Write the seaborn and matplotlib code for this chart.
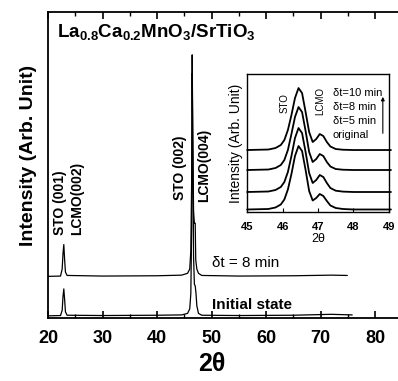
import seaborn as sns
import matplotlib.pyplot as plt
from matplotlib.ticker import MultipleLocator

sns.set_style("ticks")
plt.rcParams["font.family"] = ["Liberation Sans", "DejaVu Sans"]
plt.rcParams["mathtext.fontset"] = "custom"
plt.rcParams["mathtext.rm"] = "Liberation Sans"
plt.rcParams["mathtext.bf"] = "Liberation Sans:bold"
plt.rcParams["text.color"] = "black"
plt.rcParams["axes.labelcolor"] = "black"
plt.rcParams["axes.edgecolor"] = "black"
plt.rcParams["xtick.color"] = "black"

# main scans (2theta, intensity in arbitrary units)
init_x = [20.0, 22.3, 22.6, 22.75, 22.9, 23.05, 23.2, 23.5, 30.0, 40.0,
          44.5, 45.6, 46.0, 46.2, 46.35, 46.45, 46.55, 46.7, 46.85, 47.0,
          47.15, 47.3, 47.6, 48.2, 55.0, 65.0, 72.0, 75.8]
init_y = [0.7, 0.8, 2.5, 7.0, 9.5, 6.0, 2.0, 0.9, 0.8, 0.9,
          1.0, 1.5, 3.0, 8.0, 30.0, 80.0, 60.0, 20.0, 11.0, 10.5,
          8.0, 4.0, 1.5, 0.9, 0.8, 0.9, 1.2, 1.0]
dt8_x = [20.0, 22.3, 22.6, 22.75, 22.9, 23.05, 23.2, 23.5, 30.0, 40.0,
         44.5, 45.6, 46.0, 46.2, 46.35, 46.45, 46.55, 46.7, 46.85, 47.0,
         47.1, 47.3, 47.6, 48.2, 55.0, 65.0, 72.0, 74.9]
dt8_y = [13.6, 13.7, 16.0, 21.0, 24.0, 19.0, 15.0, 13.9, 13.7, 13.8,
         14.0, 14.6, 16.0, 22.0, 45.0, 86.0, 60.0, 35.0, 31.0, 31.0,
         19.0, 16.0, 14.6, 13.9, 13.7, 13.8, 14.0, 13.9]

# inset: zoom on the (002)/(004) region
inset_x = [45.0, 45.6, 45.8, 45.95, 46.05, 46.15, 46.25, 46.35, 46.45,
           46.55, 46.65, 46.75, 46.85, 46.95, 47.05, 47.15, 47.25, 47.35,
           47.5, 47.7, 48.0, 49.06]
inset_curves = {
    "dt10": [62, 62.5, 64, 67, 72, 82, 97, 114, 124, 119, 100, 80, 70,
             73, 78, 76, 70, 65.5, 63, 62.3, 62, 62],
    "dt8": [42, 42.5, 44, 47, 52, 62, 78, 95, 105, 100, 81, 60, 50,
            53, 58, 56, 50, 45.5, 43, 42.3, 42, 42],
    "dt5": [20, 20.5, 22, 25, 30, 40, 56, 74, 84, 79, 60, 39, 29,
            32, 37, 35, 29, 24, 21.3, 20.4, 20, 20],
    "original": [2.5, 3, 4.5, 7.5, 12.5, 22.5, 38, 56, 66, 61, 42, 21, 11.5,
                 14, 18, 16, 11, 6.5, 4, 3, 2.5, 2.5],
}
legend_labels = ["\u03b4t=10 min", "\u03b4t=8 min", "\u03b4t=5 min", "original"]

fig = plt.figure(figsize=(3.98, 3.81), dpi=100)
ax = fig.add_axes([0.1206, 0.1654, 0.8794, 0.8031])

sns.lineplot(x=init_x, y=init_y, ax=ax, color="black", lw=0.9,
             sort=False, estimator=None)
sns.lineplot(x=dt8_x, y=dt8_y, ax=ax, color="black", lw=0.9,
             sort=False, estimator=None)

ax.set_xlim(20, 84.2)
ax.set_ylim(0, 100)
ax.xaxis.set_major_locator(MultipleLocator(10))
ax.xaxis.set_minor_locator(MultipleLocator(5))
ax.tick_params(axis="x", which="major", direction="in", top=True,
               length=5, width=1.2, labelsize=13, pad=9)
ax.tick_params(axis="x", which="minor", direction="in", top=True,
               length=3, width=1.0)
ax.tick_params(axis="y", left=False, labelleft=False)
for lbl in ax.get_xticklabels():
    lbl.set_fontweight("bold")
for side in ["left", "bottom", "top"]:
    ax.spines[side].set_linewidth(1.3)
ax.spines["right"].set_visible(False)

ax.set_xlabel("2\u03b8", fontsize=18, fontweight="bold")
ax.xaxis.set_label_coords(0.469, -0.11)
ax.set_ylabel("Intensity (Arb. Unit)", fontsize=14, fontweight="bold")
ax.yaxis.set_label_coords(-0.03, 0.53)

ax.text(21.65, 91.5,
        r"La$_{\mathbf{0.8}}$Ca$_{\mathbf{0.2}}$MnO$_{\mathbf{3}}$"
        r"/SrTiO$_{\mathbf{3}}$",
        fontsize=13.5, fontweight="bold", va="baseline")
peak_labels = [("STO (001)", 22.2, 27.1), ("LCMO(002)", 25.3, 27.1),
               ("STO (002)", 44.2, 38.6), ("LCMO(004)", 48.6, 37.9)]
for txt, px, py in peak_labels:
    ax.text(px, py, txt, rotation=90, fontsize=10, fontweight="bold",
            ha="center", va="bottom")
ax.text(50.1, 18.0, "\u03b4t = 8 min", fontsize=11, va="center")
ax.text(50.1, 4.3, "Initial state", fontsize=11, fontweight="bold",
        va="center")

# inset
axi = fig.add_axes([0.621, 0.4436, 0.356, 0.362])
for name, ys in inset_curves.items():
    sns.lineplot(x=inset_x, y=ys, ax=axi, color="black", lw=1.3,
                 sort=False, estimator=None, clip_on=False)
axi.set_xlim(45, 49)
axi.set_ylim(0, 138)
axi.xaxis.set_major_locator(MultipleLocator(1))
axi.tick_params(axis="x", direction="in", length=3, width=0.8,
                labelsize=8, pad=7)
axi.tick_params(axis="y", left=False, labelleft=False)
for lbl in axi.get_xticklabels():
    lbl.set_fontweight("bold")
for side in axi.spines.values():
    side.set_linewidth(1.0)
axi.set_xlabel("2\u03b8", fontsize=9, labelpad=1)
axi.set_ylabel("Intensity (Arb. Unit)", fontsize=10, labelpad=3)

axi.text(46.05, 109, "STO", rotation=90, fontsize=7, ha="center",
         va="center")
axi.text(47.07, 111, "LCMO", rotation=90, fontsize=7, ha="center",
         va="center")
for i, lab in enumerate(legend_labels):
    axi.text(47.41, 119 - 14 * i, lab, fontsize=8, va="center")
axi.annotate("", xy=(48.83, 118), xytext=(48.83, 76),
             arrowprops=dict(arrowstyle="-|>", color="black", lw=0.8,
                             mutation_scale=5))

fig.savefig("out.png", dpi=100)
